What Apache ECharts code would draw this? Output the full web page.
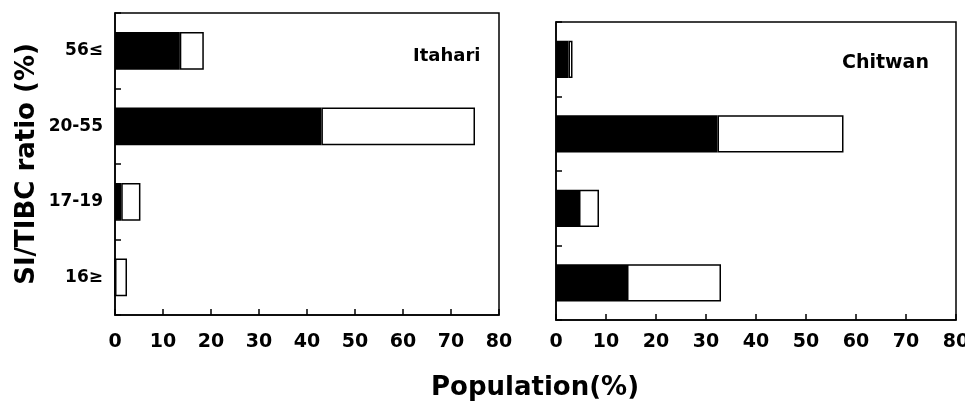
<!DOCTYPE html>
<html>
<head>
<meta charset="utf-8">
<script src="https://cdn.jsdelivr.net/npm/echarts@6/dist/echarts.min.js"></script>
<style>
  html, body { margin: 0; padding: 0; background: #fff; }
  #chart { width: 965px; height: 406px; }
</style>
</head>
<body>
<div id="chart"></div>
<script>
// categories top to bottom
const categories = ['56≤', '20-55', '17-19', '16≥'];
const xTicks = [0, 10, 20, 30, 40, 50, 60, 70, 80];

// black segment, then white segment stacked on it (% of population)
const itahariBlack = [13.5, 43, 1.3, 0];
const itahariWhite = [5, 32, 4, 2.5];
const chitwanBlack = [2.5, 32.3, 4.6, 14.2];
const chitwanWhite = [0.8, 25.2, 4, 18.8];

const font = "'DejaVu Sans', Arial, sans-serif";

const chart = echarts.init(document.getElementById('chart'));

function xAxisFor(gridIndex, labelMargin) {
    return {
        gridIndex: gridIndex,
        type: 'value',
        min: xTicks[0],
        max: xTicks[xTicks.length - 1],
        interval: 10,
        splitLine: { show: false },
        axisLine: { show: true, lineStyle: { color: '#000', width: 1.5 } },
        axisTick: { show: true, inside: true, length: 6, lineStyle: { color: '#000', width: 1.5 } },
        axisLabel: { color: '#000', fontSize: 19, fontWeight: 'bold', fontFamily: font, margin: labelMargin }
    };
}

function yAxisFor(gridIndex, showLabels) {
    const axis = {
        gridIndex: gridIndex,
        type: 'category',
        data: categories,
        inverse: true,
        axisLine: { show: true, lineStyle: { color: '#000', width: 1.5 } },
        axisTick: { show: true, inside: true, length: 6, lineStyle: { color: '#000', width: 1.5 } },
        axisLabel: { show: showLabels, color: '#000', fontSize: 17, fontWeight: 'bold', fontFamily: font, margin: 12 }
    };
    if (showLabels) {
        axis.name = 'SI/TIBC ratio (%)';
        axis.nameLocation = 'middle';
        axis.nameRotate = 90;
        axis.nameGap = 75;
        axis.nameTextStyle = { color: '#000', fontSize: 26, fontWeight: 'bold', fontFamily: font };
    }
    return axis;
}

function barPair(idx, black, white) {
    return [
        {
            type: 'bar', stack: 's' + idx, xAxisIndex: idx, yAxisIndex: idx,
            data: black, barWidth: '50%', silent: true,
            itemStyle: { color: '#000', borderColor: '#000', borderWidth: 1.5 }
        },
        {
            type: 'bar', stack: 's' + idx, xAxisIndex: idx, yAxisIndex: idx,
            data: white, barWidth: '50%', silent: true,
            itemStyle: { color: '#fff', borderColor: '#000', borderWidth: 1.5 }
        }
    ];
}

const option = {
    animation: false,
    backgroundColor: '#fff',
    title: [
        { text: 'Itahari', left: 413, top: 47, padding: 0, textStyle: { color: '#000', fontSize: 18, fontWeight: 'bold', fontFamily: font } },
        { text: 'Chitwan', left: 842, top: 54, padding: 0, textStyle: { color: '#000', fontSize: 19, fontWeight: 'bold', fontFamily: font } }
    ],
    grid: [
        { left: 115, top: 13, width: 384, height: 302, outerBoundsMode: 'none', show: true, borderColor: '#000', borderWidth: 1.5, backgroundColor: 'transparent' },
        { left: 556, top: 22, width: 400, height: 298, outerBoundsMode: 'none', show: true, borderColor: '#000', borderWidth: 1.5, backgroundColor: 'transparent' }
    ],
    xAxis: [xAxisFor(0, 18), xAxisFor(1, 13)],
    yAxis: [yAxisFor(0, true), yAxisFor(1, false)],
    graphic: [
        {
            type: 'text', x: 535, y: 388,
            style: {
                text: 'Population(%)', fill: '#000', fontSize: 26, fontWeight: 'bold', fontFamily: font,
                align: 'center', verticalAlign: 'middle'
            }
        }
    ],
    series: [].concat(
        barPair(0, itahariBlack, itahariWhite),
        barPair(1, chitwanBlack, chitwanWhite)
    )
};

chart.setOption(option);
</script>
</body>
</html>
